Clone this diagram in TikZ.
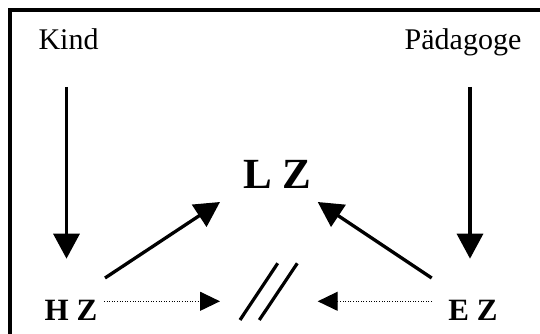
\documentclass[tikz,border=0pt]{standalone}
\usepackage{fontspec}
\setmainfont{Liberation Serif}
\usetikzlibrary{arrows.meta}

\begin{document}
\begin{tikzpicture}[x=1pt,y=1pt,
    thick arrow/.style={line width=3.3pt,-{Triangle[length=25pt,width=26pt]}},
    dot arrow/.style={line width=1.2pt,dash pattern=on 1pt off 1.6pt,
      -{Triangle[length=20pt,width=19pt]}},
    person/.style={inner sep=0pt,anchor=base,font=\fontsize{30}{36}\selectfont},
    zone/.style={inner sep=0pt,anchor=base,font=\fontsize{31}{37}\selectfont\bfseries}]
    \useasboundingbox (0,0) rectangle (540,334);
    % frame, open to the right and below
    \draw[line width=3.3pt] (545,324) -- (10,324) -- (10,-5);
    % labels
    \node[person] (kind) at (68.5,284) {Kind};
    \node[person] (paed) at (463,284) {Pädagoge};
    \node[inner sep=0pt,anchor=base,font=\fontsize{43}{50}\selectfont\bfseries]
      (lz) at (277.5,145) {L Z};
    \node[zone] (hz) at (71,13) {H Z};
    \node[zone] (ez) at (473,13) {E Z};
    \coordinate (gap) at (268.7,32.7);
    % arrows
    \draw[thick arrow] ([xshift=-2pt,yshift=-37pt]kind.base) --
      ([xshift=-4.5pt,yshift=62.3pt]hz.base);
    \draw[thick arrow] ([xshift=7pt,yshift=-37pt]paed.base) --
      ([xshift=-3pt,yshift=62.3pt]ez.base);
    \draw[thick arrow] ([xshift=34pt,yshift=43pt]hz.base) --
      ([xshift=-57.5pt,yshift=-13pt]lz.base);
    \draw[thick arrow] ([xshift=-41.3pt,yshift=43pt]ez.base) --
      ([xshift=40.2pt,yshift=-13pt]lz.base);
    \draw[dot arrow] ([xshift=33pt,yshift=19.7pt]hz.base) -- ([xshift=-48.7pt]gap);
    \draw[dot arrow] ([xshift=-41pt,yshift=19.7pt]ez.base) -- ([xshift=49pt]gap);
    % the break sign
    \draw[line width=3.2pt] (240,14) -- (277.7,70.7);
    \draw[line width=3.2pt] (259.3,14) -- (297.3,70.7);
  \end{tikzpicture}
\end{document}
